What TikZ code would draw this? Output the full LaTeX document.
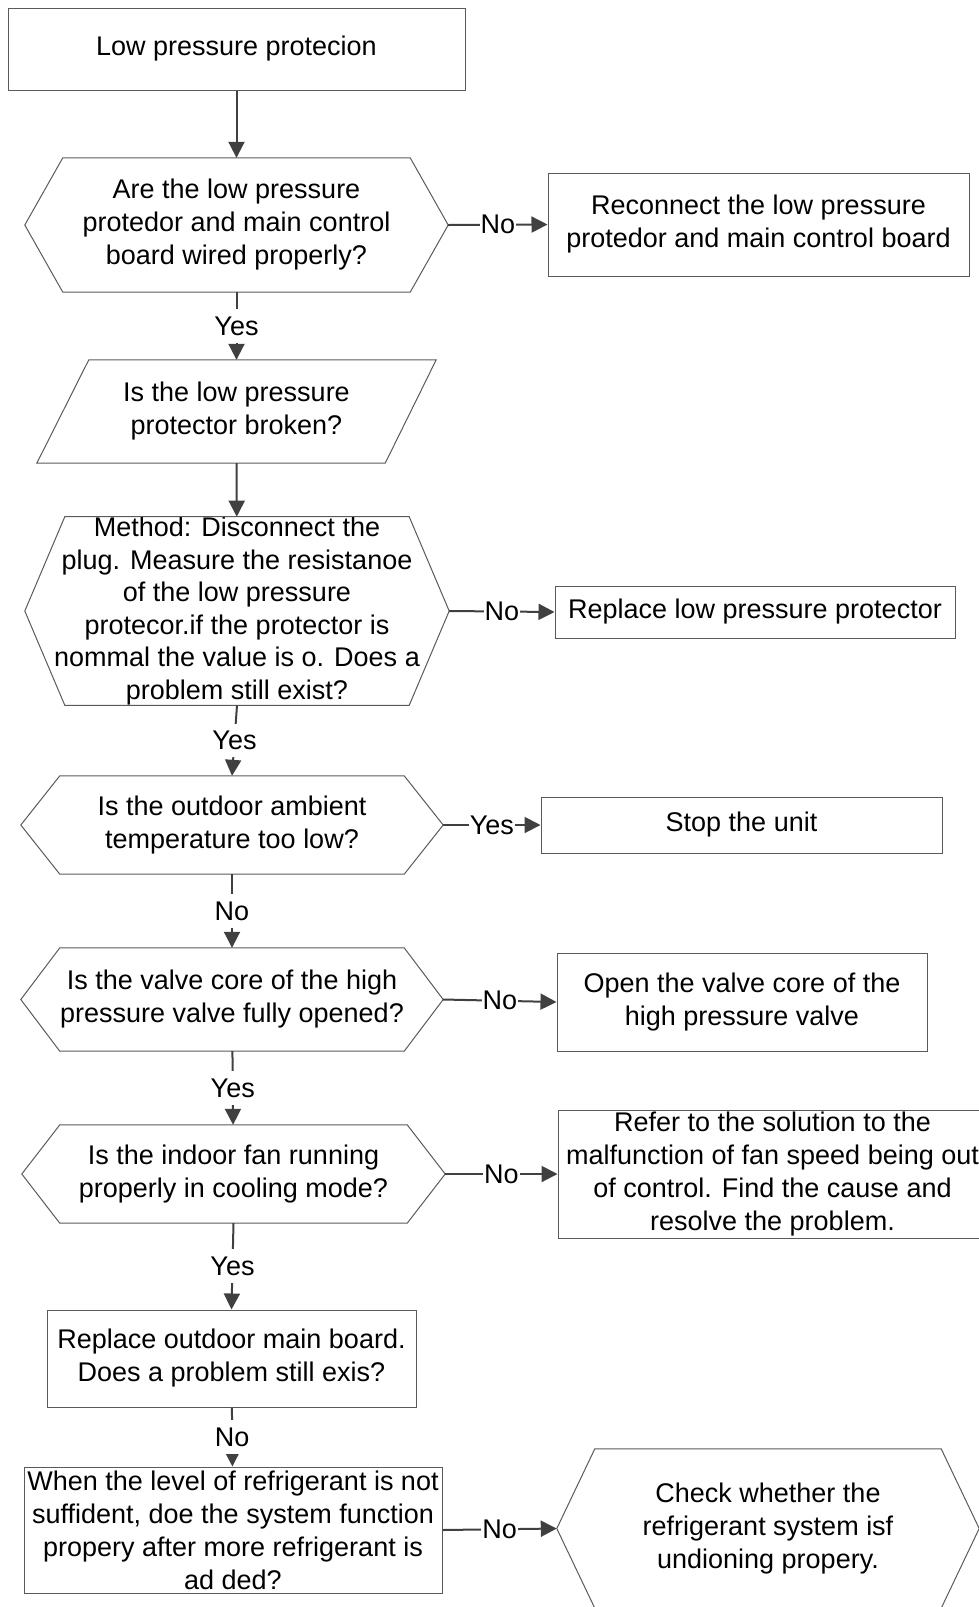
\documentclass[tikz,border=0pt]{standalone}
\usepackage{fontspec}
\setmainfont{Liberation Sans}
\usetikzlibrary{arrows.meta,calc}
\definecolor{mLineGray}{HTML}{404040}
\definecolor{mShapeGray}{HTML}{5A5A5A}
\begin{document}
\begin{tikzpicture}[x=1pt, y=-1pt, font=\fontsize{27}{33}\selectfont,
  sz/.style 2 args={minimum width=#1pt, minimum height=#2pt},
  box/.style={draw=mShapeGray, line width=1pt, align=center, inner sep=0pt},
  decbox/.style={align=center, inner sep=0pt},
  outline/.style={draw=mShapeGray, line width=1pt},
  flow/.style={-{Triangle[length=16pt,width=16pt]}, mLineGray, line width=2pt},
  lbl/.style={fill=white, inner xsep=1pt, inner ysep=7.5pt, text=black}]
\useasboundingbox (0,0) rectangle (979,1607);
% main column
\node[box, sz={457}{82}] (start) at (236.5,49) {Low pressure protecion};
\node[decbox, sz={423}{134}] (q1) at (236.5,225) {Are the low pressure\\protedor and main control\\board wired properly?};
\node[decbox, sz={399}{103}] (q2) at (236.5,411.5) {Is the low pressure\\protector broken?};
\node[decbox, sz={424}{188}, font=\fontsize{27}{32.6}\selectfont] (q3) at (237,611) {Method: Disconnect the\\plug. Measure the resistanoe\\of the low pressure\\protecor.if the protector is\\nommal the value is o. Does a\\problem still exist?};
\node[decbox, sz={422}{98}] (q4) at (232,825) {Is the outdoor ambient\\temperature too low?};
\node[decbox, sz={422}{103}] (q5) at (232,999.5) {Is the valve core of the high\\pressure valve fully opened?};
\node[decbox, sz={423}{98}] (q6) at (233.5,1174) {Is the indoor fan running\\properly in cooling mode?};
\node[box, sz={369}{97}] (q7) at (231.5,1358.5) {Replace outdoor main board.\\Does a problem still exis?};
\node[box, sz={418}{126}] (q8) at (233,1530) {When the level of refrigerant is not\\suffident, doe the system function\\propery after more refrigerant is\\ad ded?};
% right column
\node[box, sz={421}{103}] (fix1) at (758.5,224.5) {Reconnect the low pressure\\protedor and main control board};
\node[box, sz={400}{52}] (fix2) at (755,612) {Replace low pressure protector};
\node[box, sz={401}{56}] (stop) at (741.5,825) {Stop the unit};
\node[box, sz={370}{98}] (fix3) at (742,1002) {Open the valve core of the\\high pressure valve};
\node[box, sz={429}{128}] (fix4) at (772.5,1174) {Refer to the solution to the\\malfunction of fan speed being out\\of control. Find the cause and\\resolve the problem.};
\node[decbox, sz={422}{159}] (fix5) at (768,1528.5) {Check whether the\\refrigerant system isf\\undioning propery.};
% hexagon and parallelogram outlines
\foreach \n/\d in {q1/38,q3/40,q4/39,q5/39,q6/38,fix5/38}
  \draw[outline] (\n.west) -- ([xshift=\d pt]\n.north west) -- ([xshift=-\d pt]\n.north east)
    -- (\n.east) -- ([xshift=-\d pt]\n.south east) -- ([xshift=\d pt]\n.south west) -- cycle;
\draw[outline] (q2.south west) -- ([xshift=52pt]q2.north west) -- (q2.north east) -- ([xshift=-51pt]q2.south east) -- cycle;
% connectors
\draw[flow] (start) -- (q1);
\draw[flow] (q1) -- node[lbl]{Yes} (q2);
\draw[flow] (q2) -- (q3);
\draw[flow] (q3.south) -- node[lbl]{Yes} (q4.north);
\draw[flow] (q4) -- node[lbl]{No} (q5);
\draw[flow] (q5) -- node[lbl]{Yes} (q6);
\draw[flow] (q6.south) -- node[lbl]{Yes} (q7.north);
\draw[flow] (q7) -- node[lbl]{No} (q8);
\draw[flow] (q1.east) -- node[lbl]{No} (fix1.west);
\draw[flow] (q3.east) -- node[lbl]{No} (fix2.west);
\draw[flow] (q4.east) -- node[lbl]{Yes} (stop.west);
\draw[flow] (q5.east) -- node[lbl]{No} (fix3.west);
\draw[flow] (q6.east) -- node[lbl]{No} (fix4.west);
\draw[flow] (q8.east) -- node[lbl]{No} (fix5.west);
\end{tikzpicture}
\end{document}
